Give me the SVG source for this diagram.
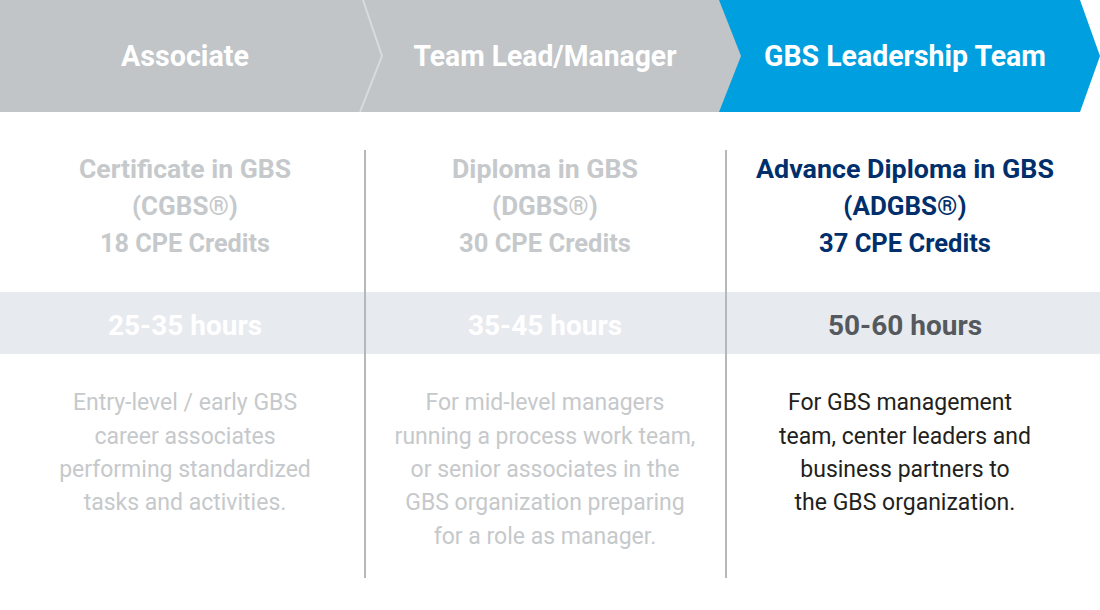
<svg xmlns="http://www.w3.org/2000/svg" width="1100" height="610" viewBox="0 0 1100 610">
<style>
.h{font-family:Roboto,"Liberation Sans",sans-serif;font-weight:bold;font-size:29px;fill:#fff;text-anchor:middle}
.t{font-family:Roboto,"Liberation Sans",sans-serif;font-weight:bold;font-size:26px;text-anchor:middle}
.hr{font-family:Roboto,"Liberation Sans",sans-serif;font-weight:bold;font-size:28px;text-anchor:middle}
.d{font-family:Roboto,"Liberation Sans",sans-serif;font-size:23px;text-anchor:middle}
.g{fill:#c6c9cb}.gd{fill:#fff}.b{fill:#002f6c}
.v{stroke:#b5b8ba;stroke-width:2}
</style>
<rect width="1100" height="610" fill="#fff"/>
<g id="header">
<rect x="0" y="0" width="741" height="112" fill="#c1c5c8"/>
<polyline points="363,0 382,56 360,112" fill="none" stroke="#d9dcde" stroke-width="2"/>
<polygon points="719,0 1080,0 1100,56 1080,112 719,112 741,56" fill="#009fdf"/>
</g>
<g id="band"><rect x="0" y="292" width="1100" height="62" fill="#e7eaee"/></g>
<g id="connectors">
<line class="v" x1="365" y1="150" x2="365" y2="578"/>
<line class="v" x1="726" y1="150" x2="726" y2="578"/>
</g>
<g id="associate">
<text class="h" x="185" y="66" textLength="128" lengthAdjust="spacingAndGlyphs">Associate</text>
<text class="t g" x="185" y="178" textLength="212" lengthAdjust="spacingAndGlyphs">Certificate in GBS</text>
<text class="t g" x="185" y="215">(CGBS®)</text>
<text class="t g" x="185" y="252" textLength="170" lengthAdjust="spacingAndGlyphs">18 CPE Credits</text>
<text class="hr gd" x="185" y="335">25-35 hours</text>
<text class="d g" x="185" y="410">Entry-level / early GBS</text>
<text class="d g" x="185" y="444">career associates</text>
<text class="d g" x="185" y="477">performing standardized</text>
<text class="d g" x="185" y="510">tasks and activities.</text>
</g>
<g id="teamlead">
<text class="h" x="545" y="66" textLength="263" lengthAdjust="spacingAndGlyphs">Team Lead/Manager</text>
<text class="t g" x="545" y="178" textLength="186" lengthAdjust="spacingAndGlyphs">Diploma in GBS</text>
<text class="t g" x="545" y="215">(DGBS®)</text>
<text class="t g" x="545" y="252" textLength="172" lengthAdjust="spacingAndGlyphs">30 CPE Credits</text>
<text class="hr gd" x="545" y="335">35-45 hours</text>
<text class="d g" x="545" y="410">For mid-level managers</text>
<text class="d g" x="545" y="444">running a process work team,</text>
<text class="d g" x="545" y="477">or senior associates in the</text>
<text class="d g" x="545" y="510">GBS organization preparing</text>
<text class="d g" x="545" y="544">for a role as manager.</text>
</g>
<g id="leadership">
<text class="h" x="905" y="66" textLength="282" lengthAdjust="spacingAndGlyphs">GBS Leadership Team</text>
<text class="t b" x="905" y="178" textLength="298" lengthAdjust="spacingAndGlyphs">Advance Diploma in GBS</text>
<text class="t b" x="905" y="215">(ADGBS®)</text>
<text class="t b" x="905" y="252" textLength="172" lengthAdjust="spacingAndGlyphs">37 CPE Credits</text>
<text class="hr" x="905" y="335" fill="#55595e">50-60 hours</text>
<text class="d" x="900" y="410" fill="#231f20">For GBS management</text>
<text class="d" x="905" y="444" fill="#231f20">team, center leaders and</text>
<text class="d" x="905" y="477" fill="#231f20">business partners to</text>
<text class="d" x="905" y="510" fill="#231f20">the GBS organization.</text>
</g>
</svg>
